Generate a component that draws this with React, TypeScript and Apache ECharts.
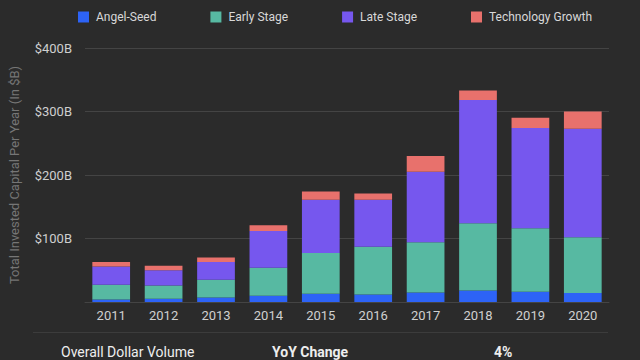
import React, { useEffect, useRef } from "react";
import * as echarts from "echarts";

const years = ["2011", "2012", "2013", "2014", "2015", "2016", "2017", "2018", "2019", "2020"];
const angelSeed = [4, 5, 7, 10, 13, 12, 15, 18, 16, 14];
const earlyStage = [23, 21, 28, 44, 64, 75, 79, 106, 100, 88];
const lateStage = [29, 24, 28, 58, 84, 74, 111, 194, 158, 171];
const techGrowth = [7, 7, 7, 9, 13, 10, 25, 15, 16, 27];
const yTicks = [0, 100, 200, 300, 400];

const seriesDefs = [
  { name: "Angel-Seed", data: angelSeed, color: "#2d63f6" },
  { name: "Early Stage", data: earlyStage, color: "#57b9a2" },
  { name: "Late Stage", data: lateStage, color: "#7657ee" },
  { name: "Technology Growth", data: techGrowth, color: "#e8716c" },
];

export default function App() {
  const ref = useRef<HTMLDivElement>(null);
  useEffect(() => {
    if (!ref.current) return;
    const chart = echarts.init(ref.current, null, { renderer: "svg" });
    const font = "Roboto";
    chart.setOption({
      animation: false,
      backgroundColor: "#2b2b2b",
      textStyle: { fontFamily: font },
      legend: {
        left: 73,
        top: 6,
        itemWidth: 11,
        itemHeight: 11,
        itemGap: 54,
        icon: "rect",
        textStyle: { color: "#d8d8d8", fontSize: 12, fontFamily: font, padding: [0, 0, 0, 2] },
        data: seriesDefs.map((s) => s.name),
      },
      grid: { left: 80, right: 31, top: 48, bottom: 58 },
      xAxis: {
        type: "category",
        data: years,
        axisLine: { show: true, lineStyle: { color: "#444444" } },
        axisTick: { show: false },
        axisLabel: { color: "#d0d0d0", fontSize: 13, margin: 7, fontFamily: font },
      },
      yAxis: {
        type: "value",
        min: yTicks[0],
        max: yTicks[yTicks.length - 1],
        interval: 100,
        name: "Total Invested Capital Per Year (In $B)",
        nameLocation: "middle",
        nameGap: 64,
        nameTextStyle: { color: "#767676", fontSize: 13, fontFamily: font },
        axisLine: { show: false },
        axisTick: { show: false },
        splitLine: { lineStyle: { color: "#444444", width: 1 } },
        axisLabel: {
          color: "#cfcfcf",
          fontSize: 13,
          margin: 13,
          fontFamily: font,
          formatter: (v: number) => (v === 0 ? "" : `$${v}B`),
        },
      },
      series: seriesDefs.map((s) => ({
        name: s.name,
        type: "bar",
        stack: "total",
        data: s.data,
        barCategoryGap: "28%",
        itemStyle: { color: s.color },
      })),
      graphic: [
        {
          type: "line",
          shape: { x1: 33, y1: 332.5, x2: 608, y2: 332.5 },
          style: { stroke: "#3c3c3c", lineWidth: 1 },
        },
        {
          type: "text",
          x: 61,
          y: 352,
          style: { text: "Overall Dollar Volume", fill: "#eeeeee", font: `14px ${font}`, textVerticalAlign: "middle" },
        },
        {
          type: "text",
          x: 272,
          y: 352,
          style: { text: "YoY Change", fill: "#eeeeee", font: `bold 14px ${font}`, textVerticalAlign: "middle" },
        },
        {
          type: "text",
          x: 494,
          y: 352,
          style: { text: "4%", fill: "#eeeeee", font: `bold 14px ${font}`, textVerticalAlign: "middle" },
        },
      ],
    });
    return () => chart.dispose();
  }, []);
  return <div ref={ref} style={{ width: 640, height: 360, position: "fixed", left: 0, top: 0 }} />;
}
